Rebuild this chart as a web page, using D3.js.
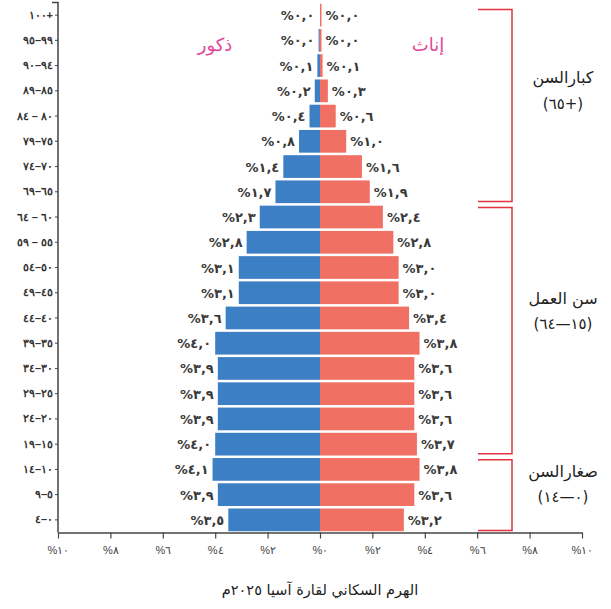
<!DOCTYPE html>
<html><head><meta charset="utf-8">
<script src="https://cdn.jsdelivr.net/npm/d3@7"></script>
<style>
body{margin:0;background:#fff;}
svg{display:block;font-family:"DejaVu Sans",sans-serif;}
.ltr{direction:ltr;unicode-bidi:bidi-override;}
</style></head>
<body><svg id="c" width="611" height="609"></svg>
<script>
const ageLabels = ["١٠٠+","٩٥–٩٩","٩٠–٩٤","٨٩–٨٥","٨٤ – ٨٠","٧٩–٧٥","٧٤–٧٠","٦٩–٦٥","٦٤ – ٦٠","٥٩ – ٥٥","٥٤–٥٠","٤٩–٤٥","٤٤–٤٠","٣٩–٣٥","٣٤–٣٠","٢٩–٢٥","٢٤–٢٠","١٩–١٥","١٤–١٠","٩–٥","٤–٠"];
const males   = [0.0,0.0,0.1,0.2,0.4,0.8,1.4,1.7,2.3,2.8,3.1,3.1,3.6,4.0,3.9,3.9,3.9,4.0,4.1,3.9,3.5];
const females = [0.0,0.0,0.1,0.3,0.6,1.0,1.6,1.9,2.4,2.8,3.0,3.0,3.4,3.8,3.6,3.6,3.6,3.7,3.8,3.6,3.2];
const xTicks = [-10,-8,-6,-4,-2,0,2,4,6,8,10];
const groupNames  = ["كبارالسن","سن العمل","صغارالسن"];
const groupRanges = ["(٦٥+)","(٦٤—١٥)","(١٤—٠)"];
const groupFrom = [0,8,18];
const groupTo   = [7,17,20];
const maleLabel = "ذكور", femaleLabel = "إناث";
const title = "الهرم السكاني لقارة آسيا ٢٠٢٥م";

const ar = s => String(s).replace(/[0-9]/g, d => "٠١٢٣٤٥٦٧٨٩"[d]);
const pct = v => "%" + ar(v.toFixed(1)).replace(".", ",");

const svg = d3.select("#c");
const x = d3.scaleLinear().domain([-10,10]).range([58,582]);
const y = d3.scaleBand().domain(d3.range(ageLabels.length)).range([2.5,532.5]).paddingInner(0.1).paddingOuter(0.05);
const yRow = d3.scaleBand().domain(d3.range(ageLabels.length)).range([2.5,532.5]);

const blue = "#3d7fc5", red = "#f07063";

const rows = d3.range(ageLabels.length);
svg.append("g").selectAll("rect").data(rows).join("rect")
  .attr("x", i => Math.min(x(-males[i]), x(0) - 1.5))
  .attr("width", i => Math.max(x(0) - x(-males[i]), 1.5))
  .attr("y", i => y(i)).attr("height", y.bandwidth())
  .attr("fill", i => males[i] === 0 && i === 0 ? "none" : (males[i]===0 ? "#8a86b0" : blue));
svg.append("g").selectAll("rect").data(rows).join("rect")
  .attr("x", x(0))
  .attr("width", i => Math.max(x(females[i]) - x(0), 1.5))
  .attr("y", i => y(i)).attr("height", y.bandwidth())
  .attr("fill", red);

// value labels
svg.append("g").selectAll("text").data(rows).join("text")
  .attr("class","ltr")
  .attr("x", i => Math.min(x(-males[i]), x(0)-1.5) - 4)
  .attr("y", i => yRow(i) + yRow.bandwidth()/2 + 5)
  .attr("text-anchor","end").attr("font-size",13).attr("font-weight","bold").attr("fill","#3a3a3a")
  .text(i => pct(males[i]));
svg.append("g").selectAll("text").data(rows).join("text")
  .attr("class","ltr")
  .attr("x", i => Math.max(x(females[i]), x(0)+1.5) + 4)
  .attr("y", i => yRow(i) + yRow.bandwidth()/2 + 5)
  .attr("text-anchor","start").attr("font-size",13).attr("font-weight","bold").attr("fill","#3a3a3a")
  .text(i => pct(females[i]));

// left axis
const yAxisG = svg.append("g").attr("transform","translate(58,0)")
  .call(d3.axisLeft(yRow).tickSize(3).tickFormat(i => ageLabels[i]));
yAxisG.select(".domain").attr("d","M-6,2.5H0V532.5").attr("stroke","#444").attr("stroke-width",1.5);
yAxisG.selectAll(".tick line").attr("stroke","#444");
yAxisG.selectAll(".tick text").attr("class","ltr").attr("font-size",11).attr("font-weight","bold").attr("fill","#333").attr("x",-5);

// bottom axis
const xAxisG = svg.append("g").attr("transform","translate(0,532.5)")
  .call(d3.axisBottom(x).tickValues(xTicks).tickSize(6).tickSizeOuter(0).tickFormat(v => "%" + ar(Math.abs(v))));
xAxisG.select(".domain").attr("stroke","#444").attr("stroke-width",1.5);
xAxisG.selectAll(".tick line").attr("stroke","#444").attr("stroke-width",1.2);
xAxisG.selectAll(".tick text").attr("class","ltr").attr("font-size",11).attr("fill","#444").attr("dy","1.1em");

// sex labels
svg.append("text").attr("x",215).attr("y",51).attr("text-anchor","middle")
  .attr("direction","rtl").attr("font-size",18).attr("fill","#e0489c").text(maleLabel);
svg.append("text").attr("x",428).attr("y",51).attr("text-anchor","middle")
  .attr("direction","rtl").attr("font-size",18).attr("fill","#e0489c").text(femaleLabel);

// brackets
const bx0 = 478, bx1 = 512;
const nameOff = [-22,-27,-18], rangeOff = [4,-2,7];
const bg = svg.append("g");
groupNames.forEach((name,k) => {
  const top = yRow(groupFrom[k]) + (k===0 ? 7 : 3);
  const bot = yRow(groupTo[k]) + yRow.bandwidth() - (k===2 ? 2 : 3);
  bg.append("path").attr("d",`M${bx0},${top}H${bx1}V${bot}H${bx0}`)
    .attr("fill","none").attr("stroke","#e0333f").attr("stroke-width",1.5);
  const mid = (top+bot)/2;
  bg.append("text").attr("x",563).attr("y",mid+nameOff[k]).attr("text-anchor","middle")
    .attr("direction","rtl").attr("font-size",16).attr("fill","#222").text(name);
  bg.append("text").attr("class","ltr").attr("x",563).attr("y",mid+rangeOff[k]).attr("text-anchor","middle")
    .attr("font-size",15).attr("fill","#222").text(groupRanges[k]);
});

// title
svg.append("text").attr("x",320).attr("y",595).attr("text-anchor","middle")
  .attr("direction","rtl").attr("font-size",14.5).attr("fill","#222").text(title);
</script></body></html>
